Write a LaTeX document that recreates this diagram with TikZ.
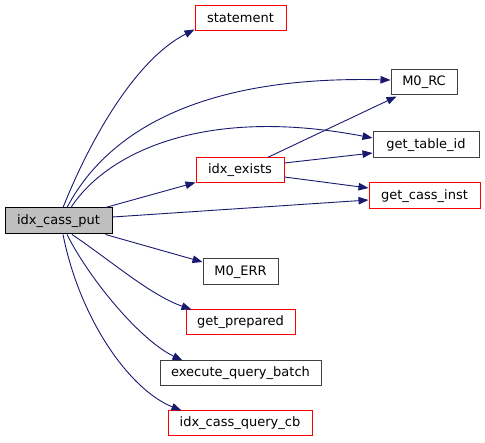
\documentclass[tikz,border=0pt]{standalone}
\usepackage{fontspec}
\setmainfont{DejaVu Sans}
\usetikzlibrary{arrows.meta,calc}
\definecolor{edgeblue}{HTML}{191970}
\definecolor{rednode}{HTML}{FF0000}
\definecolor{darknode}{HTML}{404040}
\begin{document}
\begin{tikzpicture}[x=1pt,y=-1pt,
  box/.style={draw, rectangle, inner sep=0pt, line width=1pt, font=\fontsize{13}{15}\selectfont, text=black},
  redbox/.style={box, draw=rednode},
  blkbox/.style={box, draw=darknode},
  rootbox/.style={box, draw=black, fill=black!25},
  edge/.style={draw=edgeblue, line width=0.9pt, -{Triangle[length=10pt,width=7.5pt]}}
]
\useasboundingbox (0,0) rectangle (485,443);
\node[redbox, minimum width=91pt, minimum height=25pt] (st) at (240.5,18.5) {statement};
\node[blkbox, minimum width=66pt, minimum height=25pt] (rc) at (424,82.5) {M0\_RC};
\node[blkbox, minimum width=106pt, minimum height=26pt] (tid) at (426,145) {get\_table\_id};
\node[redbox, minimum width=88pt, minimum height=25pt] (ex) at (240,170.5) {idx\_exists};
\node[redbox, minimum width=111pt, minimum height=26pt] (ci) at (424.5,196) {get\_cass\_inst};
\node[rootbox, minimum width=107pt, minimum height=26pt] (put) at (58.5,221) {idx\_cass\_put};
\node[blkbox, minimum width=75pt, minimum height=26pt] (err) at (240.5,272) {M0\_ERR};
\node[redbox, minimum width=109pt, minimum height=25pt] (gp) at (240.5,322.5) {get\_prepared};
\node[blkbox, minimum width=161pt, minimum height=25pt] (eqb) at (240.5,373.5) {execute\_query\_batch};
\node[redbox, minimum width=144pt, minimum height=25pt] (qcb) at (240,423.5) {idx\_cass\_query\_cb};

% from idx_cass_put (top side)
\draw[edge] ($(put.north)+(4.5,0)$) .. controls (90,140) and (135,60) .. ($(st.south west)+(0,-2)$);
\draw[edge] ($(put.north)+(8.5,0)$) .. controls (100,145) and (180,75) .. ($(rc.west)+(0,-2.5)$);
\draw[edge] ($(put.north)+(12.5,0)$) .. controls (105,155) and (200,105) .. ($(tid.west)+(0,-7)$);
\draw[edge] ($(put.north east)+(-7,0)$) -- ($(ex.south west)+(0,-1)$);
\draw[edge] ($(put.east)+(0,-4)$) -- ($(ci.west)+(0,4)$);
% from idx_exists
\draw[edge] ($(ex.north east)+(-17,0)$) -- ($(rc.south west)+(6,1)$);
\draw[edge] ($(ex.east)+(0,-7.5)$) -- ($(tid.west)+(0,8)$);
\draw[edge] ($(ex.east)+(0,6.5)$) -- ($(ci.west)+(0,-8)$);
% from idx_cass_put (bottom side)
\draw[edge] ($(put.south east)+(-7,0)$) -- ($(err.west)+(0,-10)$);
\draw[edge] ($(put.south)+(13.5,0)$) .. controls (110,260) and (150,295) .. ($(gp.north west)+(6,0)$);
\draw[edge] ($(put.south)+(8.5,0)$) .. controls (90,280) and (140,340) .. ($(eqb.north west)+(23,0)$);
\draw[edge] ($(put.south)+(4.5,0)$) .. controls (80,320) and (130,390) .. ($(qcb.north west)+(14,0)$);
\end{tikzpicture}
\end{document}
